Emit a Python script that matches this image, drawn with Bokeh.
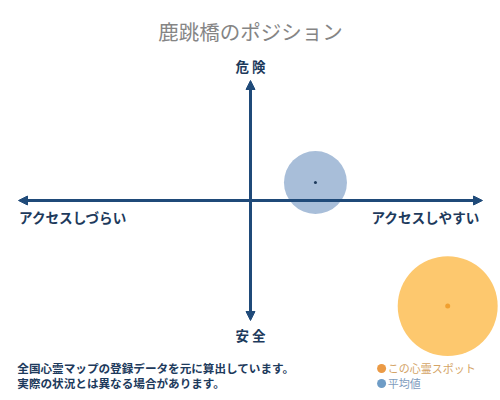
from bokeh.plotting import figure
from bokeh.models import Range1d, Arrow, NormalHead, Label, ColumnDataSource
from bokeh.embed import file_html
from bokeh.resources import INLINE

# ---- data ----
title_text = "鹿跳橋のポジション"
y_top_label = "危 険"
y_bottom_label = "安 全"
x_left_label = "アクセスしづらい"
x_right_label = "アクセスしやすい"
notes = ["全国心霊マップの登録データを元に算出しています。", "実際の状況とは異なる場合があります。"]
legend_labels = ["この心霊スポット", "平均値"]

series_names = ["spot", "average"]
access_x = [0.85, 0.28]      # -1: hard to access, 1: easy to access
danger_y = [-0.88, 0.15]     # -1: safe, 1: dangerous
bubble_size = [100, 63]

axis_min, axis_max = -1.0, 1.0

FONT = "Noto Sans CJK JP"
NAVY = "#1f4a79"
TEXT_NAVY = "#1d3a5c"

p = figure(width=500, height=400, output_backend="svg", toolbar_location=None,
           x_range=Range1d(-1.0776, 1.0776), y_range=Range1d(-1.6667, 1.6667),
           min_border=0, outline_line_color=None, background_fill_color="white")
p.axis.visible = False
p.grid.visible = False

# bubbles
src = ColumnDataSource(dict(x=access_x, y=danger_y, s=bubble_size,
                            fill=["#fdc86e", "#a8bed9"],
                            dot=["#f0a030", "#1d3a5c"],
                            dsize=[5, 3]))
p.scatter("x", "y", size="s", fill_color="fill", line_color=None, source=src)
p.scatter("x", "y", size="dsize", fill_color="dot", line_color=None, source=src)

# axes arrows
head = dict(size=9, fill_color=NAVY, line_color=NAVY, line_width=1)
p.add_layout(Arrow(start=NormalHead(**head), end=NormalHead(**head),
                   x_start=axis_min, y_start=0, x_end=axis_max, y_end=0,
                   line_color=NAVY, line_width=3))
p.add_layout(Arrow(start=NormalHead(**head), end=NormalHead(**head),
                   x_start=0, y_start=axis_min, x_end=0, y_end=axis_max,
                   line_color=NAVY, line_width=3))

def lab(x, y, t, size, color, align="center", style="normal"):
    p.add_layout(Label(x=x, y=y, text=t, text_font=FONT, text_font_size=size,
                       text_color=color, text_align=align, text_baseline="middle",
                       text_font_style=style))

lab(0, 1.415, title_text, "20.5px", "#858585")
lab(0, 1.125, y_top_label, "13.5px", TEXT_NAVY, style="bold")
lab(0, -1.125, y_bottom_label, "13.5px", TEXT_NAVY, style="bold")
lab(-0.998, -0.14, x_left_label, "13.6px", TEXT_NAVY, align="left", style="bold")
lab(0.99, -0.14, x_right_label, "13.6px", TEXT_NAVY, align="right", style="bold")

lab(-1.005, -1.40, notes[0], "11.6px", TEXT_NAVY, align="left", style="bold")
lab(-1.005, -1.525, notes[1], "11.6px", TEXT_NAVY, align="left", style="bold")

# legend
leg = ColumnDataSource(dict(x=[0.565, 0.565], y=[-1.40, -1.525],
                            c=["#eb9a45", "#6e9cc6"]))
p.scatter("x", "y", size=9, fill_color="c", line_color=None, source=leg)
lab(0.592, -1.40, legend_labels[0], "11px", "#d4a466", align="left")
lab(0.592, -1.525, legend_labels[1], "11px", "#7d9bbd", align="left")

open("out.html", "w").write(file_html(p, INLINE))
